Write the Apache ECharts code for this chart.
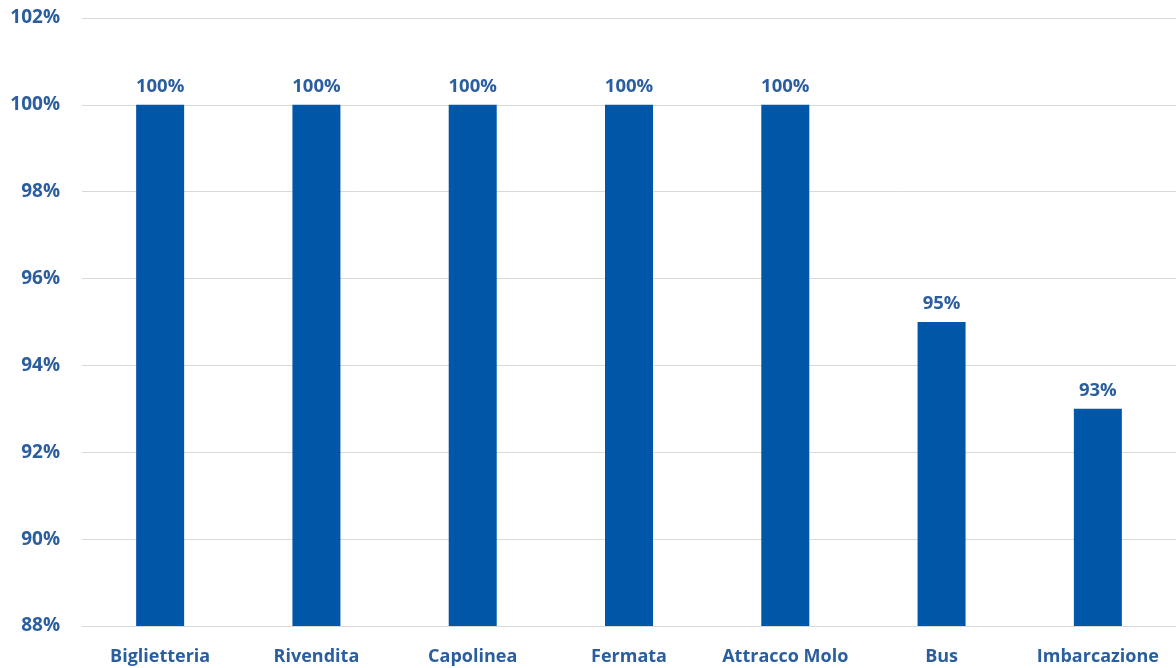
<!DOCTYPE html>
<html>
<head>
<meta charset="utf-8">
<script src="https://cdn.jsdelivr.net/npm/echarts@6/dist/echarts.min.js"></script>
<style>
  html, body { margin: 0; padding: 0; background: #ffffff; }
  #chart { width: 1176px; height: 668px; }
</style>
</head>
<body>
<div id="chart"></div>
<script>
// Punti vendita / mezzi: quota percentuale
const categories = ['Biglietteria', 'Rivendita', 'Capolinea', 'Fermata', 'Attracco Molo', 'Bus', 'Imbarcazione'];
const values = [100, 100, 100, 100, 100, 95, 93];
const yMin = 88;
const yMax = 102;
const yStep = 2;

const textColor = '#2b5e9e';
const barColor = '#0057a8';
const fontFamily = '"Open Sans", "Noto Sans", sans-serif';

const chart = echarts.init(document.getElementById('chart'), null, { renderer: 'canvas' });
chart.setOption({
  animation: false,
  backgroundColor: '#ffffff',
  grid: { left: 82, width: 1097, top: 18, bottom: 42, containLabel: false },
  xAxis: {
    type: 'category',
    data: categories,
    axisLine: { show: true, lineStyle: { color: '#d9d9d9', width: 1 } },
    axisTick: { show: false },
    axisLabel: {
      interval: 0,
      hideOverlap: false,
      color: textColor, fontFamily: fontFamily, fontWeight: 'bold', fontSize: 18, margin: 22
    }
  },
  yAxis: {
    type: 'value',
    min: yMin,
    max: yMax,
    interval: yStep,
    axisLine: { show: false },
    axisTick: { show: false },
    splitLine: { lineStyle: { color: '#d9d9d9', width: 1 } },
    axisLabel: {
      color: textColor, fontFamily: fontFamily, fontWeight: 'bold', fontSize: 19, margin: 22,
      formatter: v => v + '%'
    }
  },
  series: [{
    type: 'bar',
    data: values,
    barWidth: 48,
    itemStyle: { color: barColor },
    label: {
      show: true,
      position: 'top',
      distance: 9,
      color: textColor,
      fontFamily: fontFamily,
      fontWeight: 'bold',
      fontSize: 18.5,
      formatter: p => p.value + '%'
    }
  }]
});
</script>
</body>
</html>
